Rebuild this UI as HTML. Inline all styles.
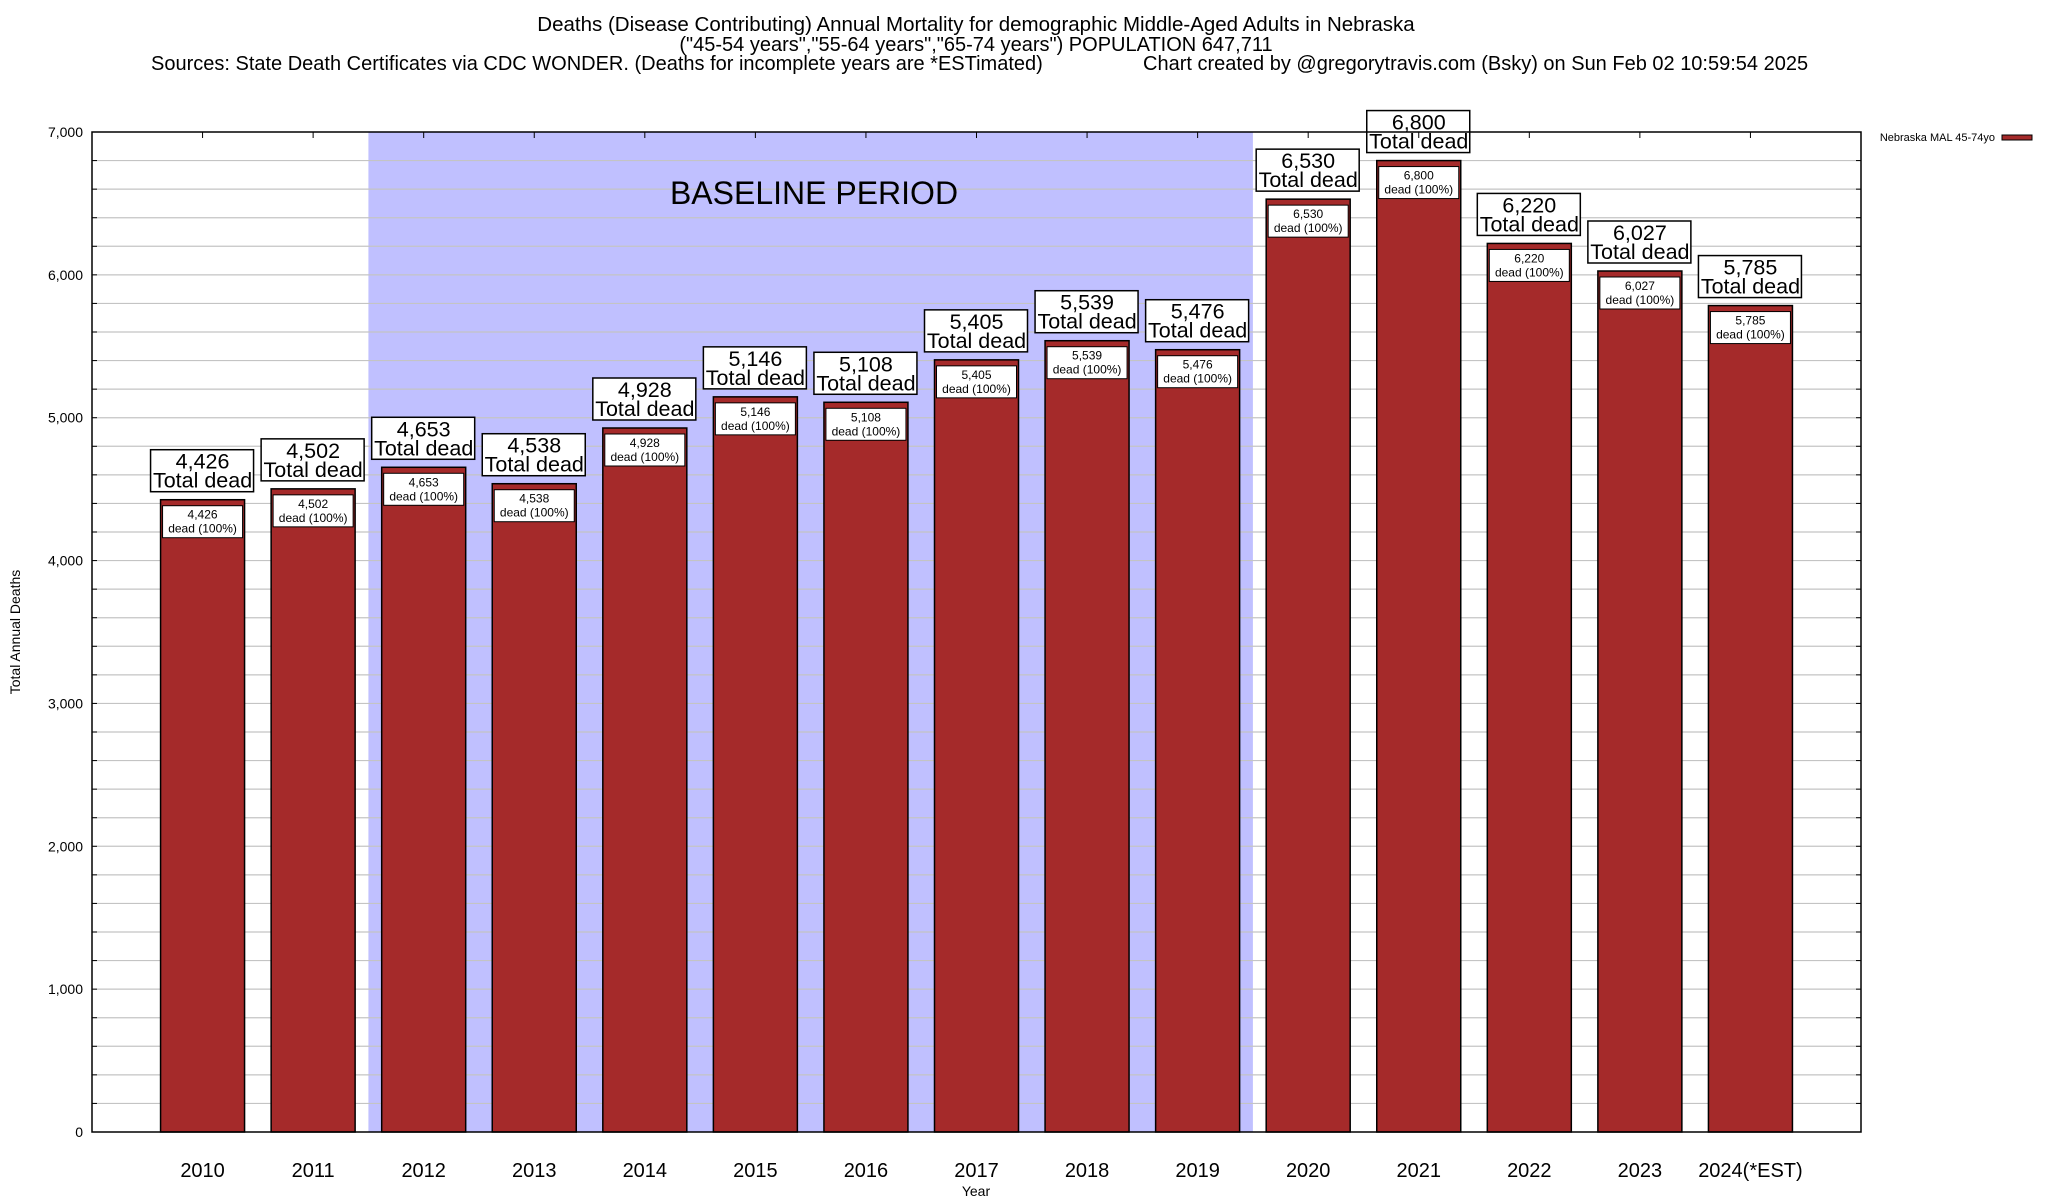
<!DOCTYPE html>
<html><head><meta charset="utf-8"><style>
body{margin:0;background:#fff;}
svg{display:block;font-family:"Liberation Sans",Arial,sans-serif;}
</style></head><body>
<svg id="chart" width="2048" height="1200" viewBox="0 0 2048 1200">
<g>
<text x="976" y="31" font-size="20.5" text-anchor="middle">Deaths (Disease Contributing) Annual Mortality for demographic Middle-Aged Adults in Nebraska</text>
<text x="976" y="51" font-size="20" text-anchor="middle">("45-54 years","55-64 years","65-74 years") POPULATION 647,711</text>
<text x="151" y="70" font-size="20">Sources: State Death Certificates via CDC WONDER. (Deaths for incomplete years are *ESTimated)</text>
<text x="1143" y="70" font-size="20">Chart created by @gregorytravis.com (Bsky) on Sun Feb 02 10:59:54 2025</text>
</g>
<g id="plot"></g>
<text x="20" y="632" font-size="14" text-anchor="middle" transform="rotate(-90 20 632)">Total Annual Deaths</text>
<text x="976" y="1196" font-size="14" text-anchor="middle">Year</text>
<g>
<text x="1995" y="141" font-size="11" text-anchor="end">Nebraska MAL 45-74yo</text>
<rect x="2002" y="135" width="30" height="5" fill="#a52a2a" stroke="#000" stroke-width="1"/>
</g>
</svg>
<script>
const categories = ["2010","2011","2012","2013","2014","2015","2016","2017","2018","2019","2020","2021","2022","2023","2024(*EST)"];
const deaths = [4426,4502,4653,4538,4928,5146,5108,5405,5539,5476,6530,6800,6220,6027,5785];
const yTicks = [0,1000,2000,3000,4000,5000,6000,7000];
const baselineStart = 2;
const baselineEnd = 9;

const NS="http://www.w3.org/2000/svg";
const L=92,R=1861,T=132,B=1132,YMAX=7000;
const slot=(R-L)/16;
const xc=i=>L+(i+1)*slot;
const y=v=>B-(v/YMAX)*(B-T);
const fmt=v=>v.toLocaleString("en-US");
const g=document.getElementById("plot");
function mk(tag,attrs,parent){const e=document.createElementNS(NS,tag);for(const k in attrs)e.setAttribute(k,attrs[k]);(parent||g).appendChild(e);return e;}

const sh=mk("rect",{x:xc(baselineStart)-slot/2,y:T,width:(baselineEnd-baselineStart+1)*slot,height:B-T,fill:"#c0c0ff"});


for(let v=200;v<YMAX;v+=200){
  const gl=mk("line",{x1:L,x2:R,y1:y(v),y2:y(v),stroke:"#c4c4c4","stroke-width":1.2});
  
  
  mk("line",{x1:L,x2:L+5,y1:y(v),y2:y(v),stroke:"#000"});
  mk("line",{x1:R-5,x2:R,y1:y(v),y2:y(v),stroke:"#000"});
}
const bt=mk("text",{x:814,y:204,"font-size":32,"text-anchor":"middle"});
bt.textContent="BASELINE PERIOD";


yTicks.forEach(v=>{
  const t=mk("text",{x:83,y:y(v)+5,"font-size":14,"text-anchor":"end"});
  t.textContent=fmt(v);
  
  
});
const bw=84;
categories.forEach((c,i)=>{
  const v=deaths[i],cx=xc(i),top=y(v);
  const bar=mk("rect",{x:cx-bw/2,y:top,width:bw,height:B-top,fill:"#a52a2a",stroke:"#000","stroke-width":1.5});
  
  
  const ib=mk("rect",{x:cx-40,y:top+6,width:80,height:32,fill:"#fff",stroke:"#000","stroke-width":1});
  
  
  const t1=mk("text",{x:cx,y:top+19,"font-size":12,"text-anchor":"middle"});t1.textContent=fmt(v);
  
  
  const t2=mk("text",{x:cx,y:top+33,"font-size":12,"text-anchor":"middle"});t2.textContent="dead (100%)";
  
  
  const ob=mk("rect",{x:cx-52,y:top-50,width:103,height:42,fill:"#fff",stroke:"#000","stroke-width":1.5});
  
  
  const o1=mk("text",{x:cx,y:top-31,"font-size":21.5,"text-anchor":"middle"});o1.textContent=fmt(v);
  
  
  const o2=mk("text",{x:cx,y:top-12,"font-size":21.5,"text-anchor":"middle"});o2.textContent="Total dead";
  
  
  mk("line",{x1:cx,x2:cx,y1:T,y2:T+6,stroke:"#000"});
  const xl=mk("text",{x:cx,y:1177,"font-size":20,"text-anchor":"middle"});xl.textContent=c;
  
  
});
const fr=mk("rect",{x:L,y:T,width:R-L,height:B-T,fill:"none",stroke:"#000","stroke-width":1.5});


</script>
</body></html>
